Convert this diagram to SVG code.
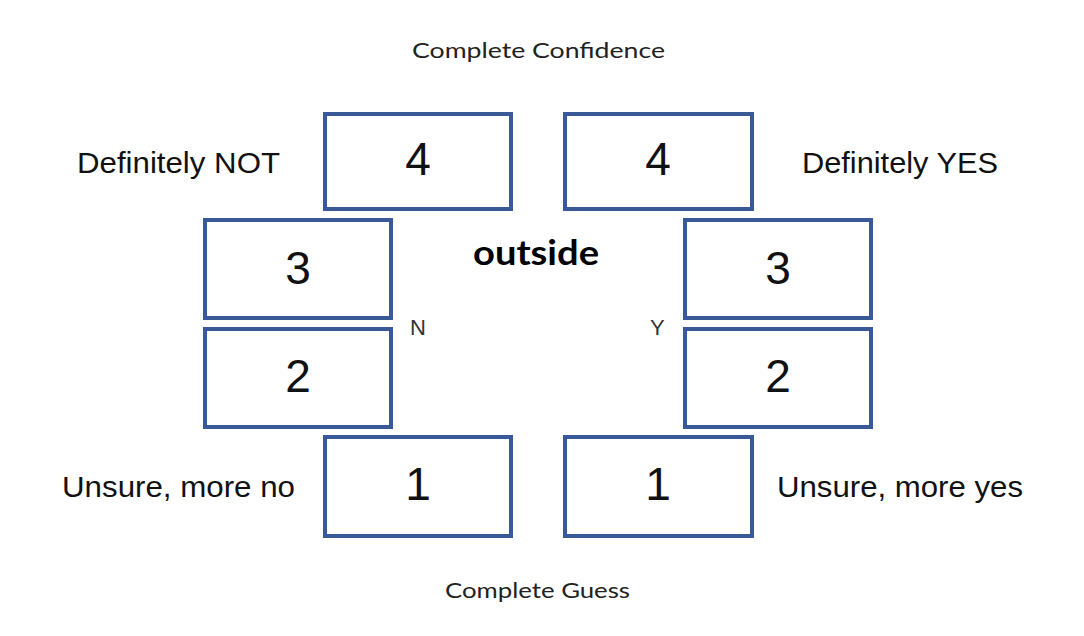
<svg xmlns="http://www.w3.org/2000/svg" width="1084" height="636" viewBox="0 0 1084 636">
<style>
.box{fill:#ffffff;stroke:#3a5a97;stroke-width:4}
.num{font-family:"Liberation Sans",Arial,sans-serif;font-size:46px;fill:#111;text-anchor:middle}
.lbl{font-family:"Liberation Sans",Arial,sans-serif;font-size:29px;fill:#111}
.cap{font-family:Lato,"Open Sans",sans-serif;font-size:21px;fill:#222}
.yn{font-family:"Liberation Sans",Arial,sans-serif;font-size:22px;fill:#333}
.bold{font-family:Lato,"Open Sans",sans-serif;font-weight:bold;font-size:34px;fill:#000}
</style>
<rect width="1084" height="636" fill="#ffffff"/>
<g id="connectors"/>
<g id="title-top"><text class="cap" x="412" y="58" textLength="253" lengthAdjust="spacingAndGlyphs">Complete Confidence</text></g>
<g id="title-bottom"><text class="cap" x="445" y="598" textLength="185" lengthAdjust="spacingAndGlyphs">Complete Guess</text></g>
<g id="label-outside"><text class="bold" x="473" y="265" textLength="126" lengthAdjust="spacingAndGlyphs">outside</text></g>
<g id="label-N"><text class="yn" x="410" y="335">N</text></g>
<g id="label-Y"><text class="yn" x="650" y="335">Y</text></g>
<g id="label-def-not"><text class="lbl" x="77" y="173" textLength="203" lengthAdjust="spacingAndGlyphs">Definitely NOT</text></g>
<g id="label-def-yes"><text class="lbl" x="802" y="173" textLength="196" lengthAdjust="spacingAndGlyphs">Definitely YES</text></g>
<g id="label-unsure-no"><text class="lbl" x="62" y="497" textLength="233" lengthAdjust="spacingAndGlyphs">Unsure, more no</text></g>
<g id="label-unsure-yes"><text class="lbl" x="777" y="497" textLength="246" lengthAdjust="spacingAndGlyphs">Unsure, more yes</text></g>
<g id="n4"><rect class="box" x="325" y="114" width="186" height="95"/><text class="num" x="418" y="175">4</text></g>
<g id="y4"><rect class="box" x="565" y="114" width="187" height="95"/><text class="num" x="658" y="175">4</text></g>
<g id="n3"><rect class="box" x="205" y="220" width="186" height="98"/><text class="num" x="298" y="284">3</text></g>
<g id="n2"><rect class="box" x="205" y="329" width="186" height="98"/><text class="num" x="298" y="392">2</text></g>
<g id="y3"><rect class="box" x="685" y="220" width="186" height="98"/><text class="num" x="778" y="284">3</text></g>
<g id="y2"><rect class="box" x="685" y="329" width="186" height="98"/><text class="num" x="778" y="392">2</text></g>
<g id="n1"><rect class="box" x="325" y="437" width="186" height="99"/><text class="num" x="418" y="500">1</text></g>
<g id="y1"><rect class="box" x="565" y="437" width="187" height="99"/><text class="num" x="658" y="500">1</text></g>
</svg>
